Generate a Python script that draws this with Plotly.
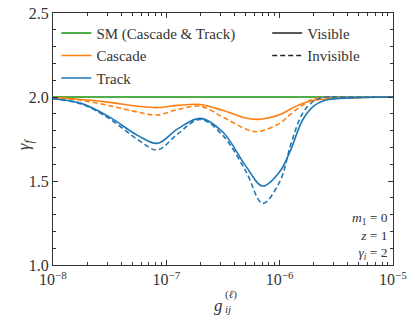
import numpy as np
import plotly.graph_objects as go

# log10 of the coupling, and gamma_f
log_g = [-8.0, -7.75, -7.5, -7.25, -7.08, -6.9, -6.7, -6.5, -6.3, -6.15,
         -6.0, -5.9, -5.8, -5.7, -5.6, -5.5, -5.25, -5.0]
track_vis = [1.99, 1.962, 1.88, 1.77, 1.724, 1.81, 1.873, 1.79, 1.59, 1.47,
             1.555, 1.69, 1.86, 1.945, 1.98, 1.99, 1.997, 2.0]
track_inv = [1.99, 1.958, 1.87, 1.745, 1.685, 1.78, 1.867, 1.77, 1.56, 1.367,
             1.495, 1.72, 1.90, 1.975, 2.0, 2.0, 2.0, 2.0]

log_g_c = [-8.0, -7.75, -7.5, -7.25, -7.08, -6.9, -6.7, -6.5, -6.3, -6.2,
           -6.0, -5.9, -5.8, -5.7, -5.6, -5.5, -5.25, -5.0]
casc_vis = [1.997, 1.985, 1.968, 1.945, 1.937, 1.95, 1.955, 1.92, 1.875, 1.867,
            1.895, 1.93, 1.962, 1.98, 1.988, 1.993, 1.998, 2.0]
casc_inv = [1.997, 1.98, 1.948, 1.91, 1.893, 1.925, 1.945, 1.88, 1.81, 1.793,
            1.843, 1.90, 1.95, 1.99, 2.0, 2.0, 2.0, 2.0]

sm_x = [-8.0, -5.0]
sm_y = [2.0, 2.0]

xticks = [1e-8, 1e-7, 1e-6, 1e-5]
xticktext = ["10<sup>−8</sup>", "10<sup>−7</sup>", "10<sup>−6</sup>", "10<sup>−5</sup>"]
xminor = [k * d for d in [1e-8, 1e-7, 1e-6] for k in range(2, 10)]

params = ["<i>m</i><sub>1</sub> = 0", "<i>z</i> = 1", "<i>γ<sub>i</sub></i> = 2"]

GREEN, ORANGE, BLUE = "#4fae4a", "#ff7f0e", "#1f77b4"
FONT = "Liberation Serif"
INK = "#333"

xt = 10.0 ** np.array(log_g)
xc = 10.0 ** np.array(log_g_c)

fig = go.Figure()
fig.add_trace(go.Scatter(x=10.0 ** np.array(sm_x), y=sm_y, mode="lines",
                         line=dict(color=GREEN, width=2), name="SM (Cascade &amp; Track)"))
fig.add_trace(go.Scatter(x=xc, y=casc_vis, mode="lines", line_shape="spline",
                         line=dict(color=ORANGE, width=1.6), name="Cascade"))
fig.add_trace(go.Scatter(x=xc, y=casc_inv, mode="lines", line_shape="spline",
                         line=dict(color=ORANGE, width=1.6, dash="5px,3px"), showlegend=False))
fig.add_trace(go.Scatter(x=xt, y=track_vis, mode="lines", line_shape="spline",
                         line=dict(color=BLUE, width=1.6), name="Track"))
fig.add_trace(go.Scatter(x=xt, y=track_inv, mode="lines", line_shape="spline",
                         line=dict(color=BLUE, width=1.6, dash="5px,3px"), showlegend=False))
fig.add_trace(go.Scatter(x=[None], y=[None], mode="lines", line=dict(color="#222", width=1.6),
                         name="Visible", legend="legend2"))
fig.add_trace(go.Scatter(x=[None], y=[None], mode="lines",
                         line=dict(color="#222", width=1.6, dash="5px,3px"),
                         name="Invisible", legend="legend2"))

axis_common = dict(showline=True, linecolor=INK, linewidth=1.2, mirror="ticks",
                   ticks="inside", ticklen=5, tickcolor=INK, showgrid=False,
                   zeroline=False, tickfont=dict(family=FONT, size=16, color=INK))

fig.update_xaxes(type="log", range=[-8, -5], tickvals=xticks, ticktext=xticktext,
                 minor=dict(ticks="inside", ticklen=3, tickcolor=INK, tickvals=xminor,
                            showgrid=False),
                 **axis_common)
fig.update_yaxes(range=[1.0, 2.5], tickvals=[1.0, 1.5, 2.0, 2.5], tickformat=".1f",
                 minor=dict(ticks="inside", ticklen=3, dtick=0.1, tickcolor=INK, showgrid=False),
                 **axis_common)

legend_common = dict(bgcolor="rgba(0,0,0,0)", font=dict(family=FONT, size=15, color=INK),
                     itemwidth=30, tracegroupgap=0, xanchor="left", yanchor="top")
fig.update_layout(
    width=415, height=324,
    margin=dict(l=53, r=22, t=13, b=59, autoexpand=False),
    paper_bgcolor="white", plot_bgcolor="white",
    legend=dict(x=0.01, y=0.985, **legend_common),
    legend2=dict(x=0.63, y=0.985, **legend_common),
)

fig.add_annotation(text="<i>γ<sub>f</sub></i>", xref="paper", yref="paper", x=-0.12, y=0.48,
                   showarrow=False, textangle=-90, font=dict(family=FONT, size=17, color=INK))
# x label g_ij^(l): sub and superscript stacked next to the g
fig.add_annotation(text="<i>g</i>", xref="paper", yref="paper", x=0.503, y=-0.159,
                   xanchor="right", yanchor="middle", borderpad=0,
                   showarrow=False, font=dict(family=FONT, size=17, color=INK))
fig.add_annotation(text="(<i>ℓ</i>)", xref="paper", yref="paper", x=0.503, y=-0.147,
                   xanchor="left", yanchor="bottom", borderpad=0,
                   showarrow=False, font=dict(family=FONT, size=11, color=INK))
fig.add_annotation(text="<i>ij</i>", xref="paper", yref="paper", x=0.503, y=-0.147,
                   xanchor="left", yanchor="top", borderpad=0,
                   showarrow=False, font=dict(family=FONT, size=11, color=INK))
fig.add_annotation(text="<br>".join(params), xref="paper", yref="paper", x=0.99, y=0.115,
                   xanchor="right", yanchor="middle", align="right", showarrow=False,
                   font=dict(family=FONT, size=13.5, color=INK))

fig.write_html("out.html", config={"displayModeBar": False},
               post_script="document.body.style.margin='0';")
